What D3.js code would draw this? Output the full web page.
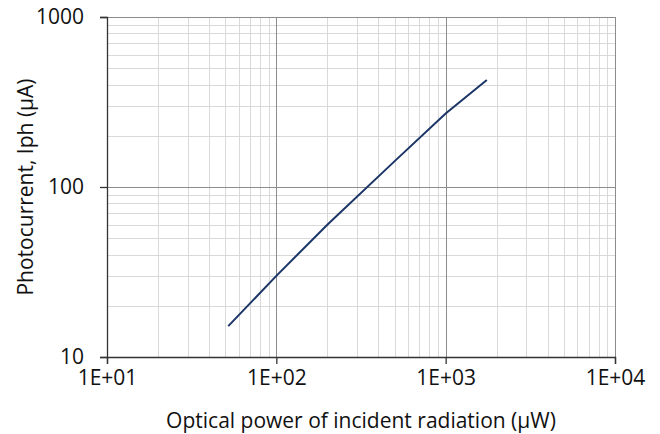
<!DOCTYPE html>
<html>
<head>
<meta charset="utf-8">
<script src="https://cdn.jsdelivr.net/npm/d3@7"></script>
<style>
  body { margin: 0; background: #fff; }
  svg text { font-family: "Open Sans", "Noto Sans", sans-serif; fill: #111; }
</style>
</head>
<body>
<div id="chart"></div>
<script>
// optical power (uW) vs photocurrent (uA)
var power = [52, 100, 200, 500, 1000, 1750];
var current = [15.2, 30, 60, 142, 271, 426];

var xTicks = [10, 100, 1000, 10000];
var xTickLabels = ["1E+01", "1E+02", "1E+03", "1E+04"];
var yTicks = [10, 100, 1000];

var width = 660, height = 434;
var margin = {top: 17, right: 45, bottom: 77, left: 107};
var plotW = width - margin.left - margin.right;
var plotH = height - margin.top - margin.bottom;

var svg = d3.select("#chart")
  .append("svg")
  .attr("width", width)
  .attr("height", height);

var g = svg.append("g")
  .attr("transform", `translate(${margin.left}, ${margin.top})`);

var x = d3.scaleLog().domain([10, 10000]).range([0, plotW]);
var y = d3.scaleLog().domain([10, 1000]).range([plotH, 0]);

// minor grid (2..9 per decade)
var minorX = x.ticks().filter(d => xTicks.indexOf(d) < 0);
var minorY = y.ticks().filter(d => yTicks.indexOf(d) < 0);

g.append("g").selectAll("line")
  .data(minorX)
  .enter().append("line")
  .attr("x1", d => Math.round(x(d)) + 0.5)
  .attr("x2", d => Math.round(x(d)) + 0.5)
  .attr("y1", 0).attr("y2", plotH)
  .attr("stroke", "#d9d9d9");

g.append("g").selectAll("line")
  .data(minorY)
  .enter().append("line")
  .attr("y1", d => Math.round(y(d)) + 0.5)
  .attr("y2", d => Math.round(y(d)) + 0.5)
  .attr("x1", 0).attr("x2", plotW)
  .attr("stroke", "#d9d9d9");

// major grid
g.append("g").selectAll("line")
  .data(xTicks)
  .enter().append("line")
  .attr("x1", d => Math.round(x(d)) + 0.5)
  .attr("x2", d => Math.round(x(d)) + 0.5)
  .attr("y1", 0).attr("y2", plotH)
  .attr("stroke", "#8c8c8c");

g.append("g").selectAll("line")
  .data(yTicks)
  .enter().append("line")
  .attr("y1", d => Math.round(y(d)) + 0.5)
  .attr("y2", d => Math.round(y(d)) + 0.5)
  .attr("x1", 0).attr("x2", plotW)
  .attr("stroke", "#8c8c8c");

// axes
var bottomAxis = d3.axisBottom(x)
  .tickValues(xTicks)
  .tickFormat((d, i) => xTickLabels[i])
  .tickSize(7)
  .tickPadding(6);

var leftAxis = d3.axisLeft(y)
  .tickValues(yTicks)
  .tickFormat(d3.format("d"))
  .tickSize(7)
  .tickPadding(16);

var xAxis = g.append("g")
  .attr("transform", `translate(0, ${plotH})`)
  .call(bottomAxis);

var yAxis = g.append("g")
  .call(leftAxis);

[xAxis, yAxis].forEach(function(a) {
  a.attr("font-size", null).attr("font-family", null);
  a.select(".domain").attr("stroke", "#333").attr("stroke-width", 1.3);
  a.selectAll(".tick line").attr("stroke", "#333").attr("stroke-width", 1.3);
  a.selectAll("text").style("font-size", "21px").attr("fill", "#111");
});

// data line
var line = d3.line()
  .x((d, i) => x(power[i]))
  .y((d, i) => y(current[i]));

g.append("path")
  .datum(power)
  .attr("d", line)
  .attr("fill", "none")
  .attr("stroke", "#1b3566")
  .attr("stroke-width", 2);

// axis titles
svg.append("text")
  .attr("x", margin.left + plotW / 2)
  .attr("y", 428)
  .attr("text-anchor", "middle")
  .style("font-size", "21px")
  .text("Optical power of incident radiation (\u00b5W)");

svg.append("text")
  .attr("transform", `translate(33, ${margin.top + plotH / 2}) rotate(-90)`)
  .attr("text-anchor", "middle")
  .style("font-size", "21px")
  .text("Photocurrent, Iph (\u00b5A)");
</script>
</body>
</html>
